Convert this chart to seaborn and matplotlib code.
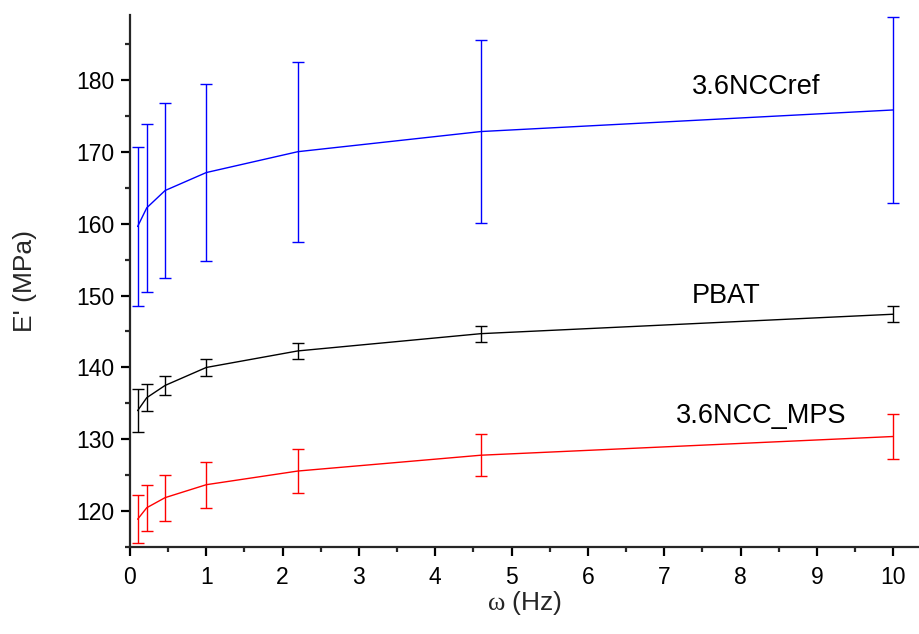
import numpy as np
import pandas as pd
import matplotlib
matplotlib.use("Agg")
import matplotlib.pyplot as plt
import seaborn as sns
from matplotlib.ticker import MultipleLocator

# data
freq = [0.1, 0.22, 0.46, 1.0, 2.2, 4.6, 10.0]
ref_mean = [159.6, 162.2, 164.6, 167.1, 170.0, 172.8, 175.8]
ref_err = [11.0, 11.7, 12.2, 12.3, 12.5, 12.7, 12.9]
pbat_mean = [134.0, 135.8, 137.5, 140.0, 142.3, 144.7, 147.4]
pbat_err = [3.0, 1.9, 1.3, 1.2, 1.1, 1.1, 1.1]
mps_mean = [118.9, 120.5, 121.9, 123.7, 125.6, 127.8, 130.4]
mps_err = [3.3, 3.2, 3.2, 3.2, 3.0, 2.9, 3.15]

series_names = ["3.6NCCref", "PBAT", "3.6NCC_MPS"]
series_colors = ["#0000ff", "#000000", "#ff0000"]
label_pos = [(8.2, 179.0), (7.81, 150.0), (8.27, 133.3)]

sns.set_style("ticks")
plt.rcParams["font.family"] = ["Liberation Sans", "DejaVu Sans"]
plt.rcParams["mathtext.fontset"] = "custom"
plt.rcParams["mathtext.rm"] = "Liberation Serif"
plt.rcParams["mathtext.it"] = "Liberation Serif"

means = [ref_mean, pbat_mean, mps_mean]
errs = [ref_err, pbat_err, mps_err]
frames = []
for name, m, e in zip(series_names, means, errs):
    frames.append(pd.DataFrame({"freq": freq, "E": m, "err": e, "sample": name}))
df = pd.concat(frames, ignore_index=True)

fig = plt.figure(figsize=(9.2, 6.34), dpi=100)
ax = fig.add_axes([0.1413, 0.1368, 0.8577, 0.8395])

palette = dict(zip(series_names, series_colors))
sns.lineplot(data=df, x="freq", y="E", hue="sample", palette=palette,
             linewidth=1.0, legend=False, ax=ax, sort=False)

for name in series_names:
    sub = df[df["sample"] == name]
    ax.errorbar(sub["freq"], sub["E"], yerr=sub["err"], fmt="none",
                ecolor=palette[name], elinewidth=1.0, capsize=4.5,
                capthick=1.0)

for name, (tx, ty) in zip(series_names, label_pos):
    ax.text(tx, ty, name, fontsize=19.5, ha="center", va="center", color="black")

ax.set_xlim(0, 10.34)
ax.set_ylim(115, 189)
ax.xaxis.set_major_locator(MultipleLocator(1))
ax.xaxis.set_minor_locator(MultipleLocator(0.5))
ax.yaxis.set_major_locator(MultipleLocator(10))
ax.yaxis.set_minor_locator(MultipleLocator(5))
ax.set_yticks([120, 130, 140, 150, 160, 170, 180])

for side in ["top", "right"]:
    ax.spines[side].set_visible(False)
for side in ["left", "bottom"]:
    ax.spines[side].set_linewidth(1.6)

ax.tick_params(axis="both", which="major", direction="out", length=6.5,
               width=1.6, labelsize=16.5, colors="black")
ax.tick_params(axis="x", which="major", pad=7)
ax.tick_params(axis="y", which="major", pad=5)
ax.tick_params(axis="both", which="minor", direction="out", length=3.6,
               width=1.6)

ax.set_xlabel(r"$\mathrm{\omega}$ (Hz)", fontsize=19, labelpad=0)
ax.set_ylabel("E' (MPa)", fontsize=19, labelpad=28)

fig.savefig("out.png", dpi=100)
